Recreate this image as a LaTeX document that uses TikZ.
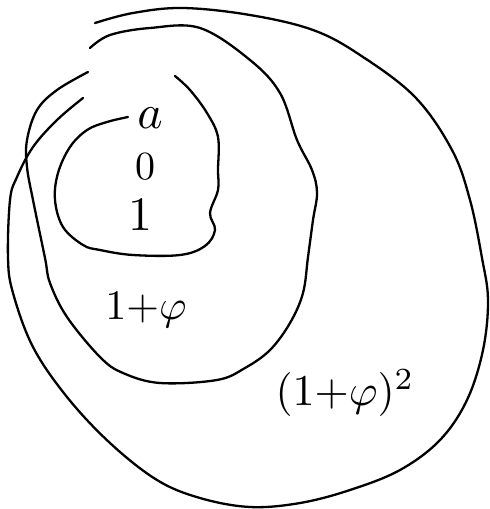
\documentclass[tikz,border=0pt]{standalone}
\begin{document}
\begin{tikzpicture}[x=1pt,y=-1pt,
  stroke/.style={line width=2.3pt,line cap=round,line join=round,smooth,tension=0.6},
  label/.style={inner sep=0pt}]
\useasboundingbox (0,0) rectangle (490,509);
% outer curve
\draw[stroke] plot coordinates {(83,98) (57,120) (33,147) (17,177) (10,200) (8,258) (13,293) (33,347) (67,397) (110,443) (157,480) (200,498) (250,507) (300,503) (350,490) (400,470) (440,440) (467,400) (483,350) (488,300) (482,258) (470,200) (452,150) (415,97) (360,55) (313,30) (250,15) (183,8) (133,13) (95,23)};
% middle curve
\draw[stroke] plot coordinates {(90,48) (110,35) (150,28) (200,28) (250,60) (280,93) (297,140) (312,170) (317,193) (313,220) (308,257) (303,293) (290,323) (270,350) (245,368) (217,380) (160,383) (123,373) (100,357) (67,317) (50,283) (45,258) (33,200) (27,167) (27,140) (37,110) (57,90) (88,72)};
% inner curve
\draw[stroke] plot coordinates {(175,76) (190,90) (207,113) (218,137) (218,170) (218,190) (210,213) (215,230) (205,246) (180,255) (133,255) (100,250) (83,245) (63,227) (55,200) (58,173) (70,147) (87,130) (107,122) (128,117)};
% labels
\node[label,scale=4.8] (a) at (150,118) {$a$};
\node[label,scale=4] (zero) at (145,167) {$0$};
\node[label,scale=4.8] (one) at (140,215) {$1$};
\node[label,scale=4.2] (p1) at (146,310) {$1{+}\varphi$};
\node[label,scale=4.4] (p2) at (345,393) {$(1{+}\varphi)^2$};
\end{tikzpicture}
\end{document}
